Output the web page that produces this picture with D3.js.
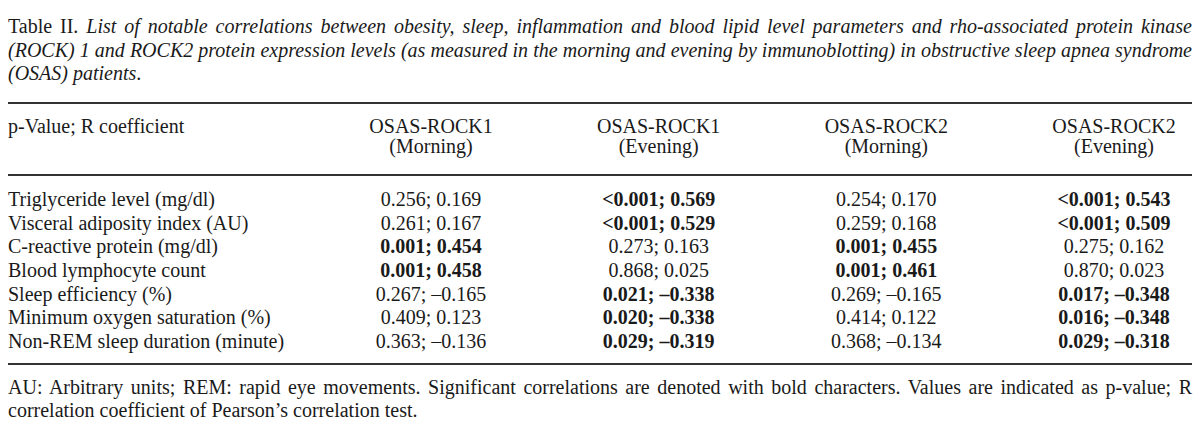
<!DOCTYPE html>
<html><head><meta charset="utf-8">
<script src="https://cdn.jsdelivr.net/npm/d3@7"></script>
<style>body{margin:0;background:#fff}svg{display:block}text{font-family:"Liberation Serif","Times New Roman",serif;fill:#1a1a1a}</style>
</head><body><div id="c"></div>
<script>
const titleLines = [
  [["Table II. ", false], ["List of notable correlations between obesity, sleep, inflammation and blood lipid level parameters and rho-associated protein kinase", true]],
  [["(ROCK) 1 and ROCK2 protein expression levels (as measured in the morning and evening by immunoblotting) in obstructive sleep apnea syndrome", true]],
  [["(OSAS) patients", true], [".", false]]
];
const headerLabel = "p-Value; R coefficient";
const columns = ["OSAS-ROCK1", "OSAS-ROCK1", "OSAS-ROCK2", "OSAS-ROCK2"];
const columnTimes = ["(Morning)", "(Evening)", "(Morning)", "(Evening)"];
const rowLabels = ["Triglyceride level (mg/dl)", "Visceral adiposity index (AU)", "C-reactive protein (mg/dl)", "Blood lymphocyte count", "Sleep efficiency (%)", "Minimum oxygen saturation (%)", "Non-REM sleep duration (minute)"];
const pRock1Morning = ["0.256", "0.261", "0.001", "0.001", "0.267", "0.409", "0.363"];
const rRock1Morning = ["0.169", "0.167", "0.454", "0.458", "–0.165", "0.123", "–0.136"];
const pRock1Evening = ["<0.001", "<0.001", "0.273", "0.868", "0.021", "0.020", "0.029"];
const rRock1Evening = ["0.569", "0.529", "0.163", "0.025", "–0.338", "–0.338", "–0.319"];
const pRock2Morning = ["0.254", "0.259", "0.001", "0.001", "0.269", "0.414", "0.368"];
const rRock2Morning = ["0.170", "0.168", "0.455", "0.461", "–0.165", "0.122", "–0.134"];
const pRock2Evening = ["<0.001", "<0.001", "0.275", "0.870", "0.017", "0.016", "0.029"];
const rRock2Evening = ["0.543", "0.509", "0.162", "0.023", "–0.348", "–0.348", "–0.318"];
const footerLines = [
  "AU: Arbitrary units; REM: rapid eye movements. Significant correlations are denoted with bold characters. Values are indicated as p-value; R",
  "correlation coefficient of Pearson’s correlation test."
];

const W = 1200, H = 441, L = 8, R = 1192;
const svg = d3.select("#c").append("svg").attr("width", W).attr("height", H);

function justify(sel, target) {
  const natural = sel.node().getComputedTextLength();
  const txt = sel.text();
  const spaces = (txt.match(/ /g) || []).length;
  if (spaces > 0) sel.style("word-spacing", ((target - natural) / spaces) + "px");
}

const fs = "20px";
// Title
const titleY = d3.scalePoint().domain(d3.range(titleLines.length)).range([33, 80]);
titleLines.forEach((parts, i) => {
  const t = svg.append("text").attr("x", L).attr("y", titleY(i)).style("font-size", fs);
  parts.forEach(([s, it]) => t.append("tspan").text(s).style("font-style", it ? "italic" : "normal"));
  if (i < titleLines.length - 1) justify(t, R - L);
});

// Rules
const ruleY = [103, 175, 364];
svg.selectAll("line.rule").data(ruleY).join("line")
  .attr("x1", L).attr("x2", R).attr("y1", d => d).attr("y2", d => d)
  .attr("stroke", "#333").attr("stroke-width", 2);

// Header
const x = d3.scalePoint().domain(d3.range(columns.length)).range([431, 1114]);
svg.append("text").attr("x", L).attr("y", 133).style("font-size", fs).text(headerLabel);
const hdr = svg.selectAll("g.hdr").data(columns).join("g").attr("class", "hdr");
hdr.append("text").attr("x", (d, i) => x(i)).attr("y", 133).attr("text-anchor", "middle").style("font-size", fs).text(d => d);
hdr.append("text").attr("x", (d, i) => x(i)).attr("y", 153).attr("text-anchor", "middle").style("font-size", fs).text((d, i) => columnTimes[i]);

// Body
const pCols = [pRock1Morning, pRock1Evening, pRock2Morning, pRock2Evening];
const rCols = [rRock1Morning, rRock1Evening, rRock2Morning, rRock2Evening];
const y = d3.scalePoint().domain(d3.range(rowLabels.length)).range([206, 348]);
svg.selectAll("text.rl").data(rowLabels).join("text").attr("class", "rl")
  .attr("x", L).attr("y", (d, i) => y(i)).style("font-size", fs).text(d => d);
const cells = [];
rowLabels.forEach((_, r) => pCols.forEach((pc, c) => {
  const p = pc[r];
  const pv = parseFloat(p.replace("<", ""));
  cells.push({r, c, text: p + "; " + rCols[c][r], bold: pv < 0.05});
}));
svg.selectAll("text.cell").data(cells).join("text").attr("class", "cell")
  .attr("x", d => x(d.c)).attr("y", d => y(d.r)).attr("text-anchor", "middle")
  .style("font-size", fs).style("font-weight", d => d.bold ? "bold" : "normal").text(d => d.text);

// Footer
const fy = d3.scalePoint().domain(d3.range(footerLines.length)).range([394, 417]);
footerLines.forEach((s, i) => {
  const t = svg.append("text").attr("x", L).attr("y", fy(i)).style("font-size", fs).text(s);
  if (i < footerLines.length - 1) justify(t, R - L);
});
</script></body></html>
